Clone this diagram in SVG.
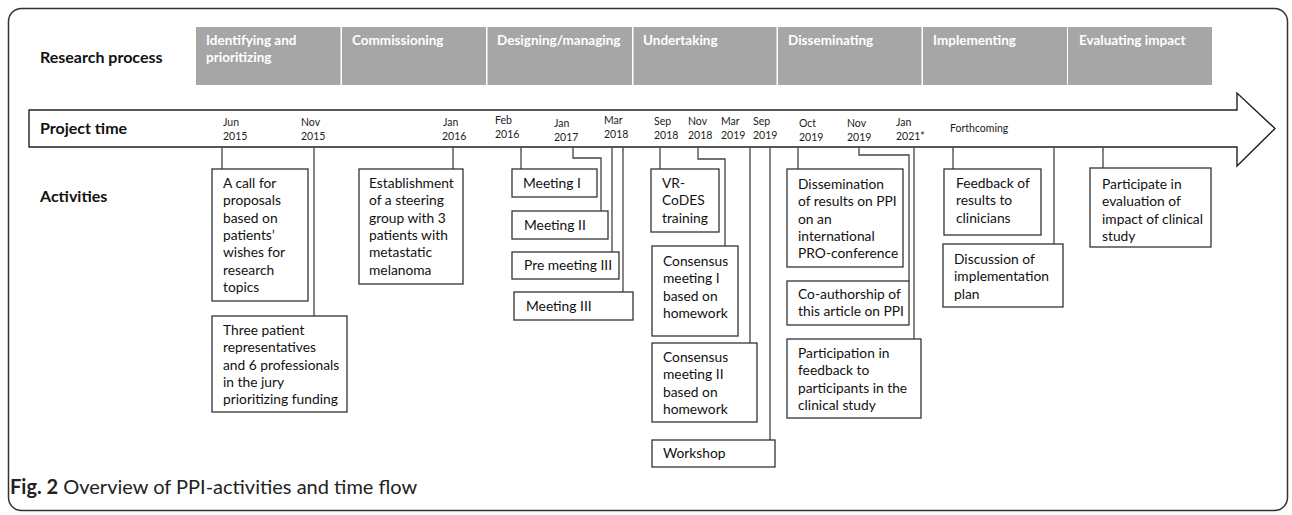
<svg xmlns="http://www.w3.org/2000/svg" width="1292" height="515" viewBox="0 0 1292 515">
<style>
.frame{fill:#fff;stroke:#333;stroke-width:1.5}
.phase{fill:#a6a6a6}
.ph{font-family:Lato,"Liberation Sans",sans-serif;font-weight:bold;font-size:13.5px;fill:#fff}
.lbl{font-family:Lato,"Liberation Sans",sans-serif;font-weight:bold;font-size:16px;fill:#111}
.date{font-family:Lato,"Liberation Sans",sans-serif;font-size:10.5px;fill:#222}
.box{fill:#fff;stroke:#333;stroke-width:1.3}
.bt{font-family:Lato,"Liberation Sans",sans-serif;font-size:13.8px;fill:#111}
.con{fill:none;stroke:#444;stroke-width:1.3}
.cap{font-family:Lato,"Liberation Sans",sans-serif;font-size:20px;fill:#222}
</style>
<rect class="frame" x="8.5" y="8.5" width="1279" height="502" rx="13"/>

<g id="research-process">
<text class="lbl" x="40" y="63">Research process</text>
<rect class="phase" x="196" y="27" width="144.5" height="58"/>
<text class="ph" x="206" y="45">Identifying and</text>
<text class="ph" x="206" y="62">prioritizing</text>
<rect class="phase" x="342" y="27" width="144" height="58"/>
<text class="ph" x="352" y="45">Commissioning</text>
<rect class="phase" x="487.5" y="27" width="144.5" height="58"/>
<text class="ph" x="497" y="45">Designing/managing</text>
<rect class="phase" x="633.5" y="27" width="143" height="58"/>
<text class="ph" x="643" y="45">Undertaking</text>
<rect class="phase" x="778" y="27" width="143.5" height="58"/>
<text class="ph" x="788" y="45">Disseminating</text>
<rect class="phase" x="923" y="27" width="144" height="58"/>
<text class="ph" x="933" y="45">Implementing</text>
<rect class="phase" x="1068" y="27" width="144" height="58"/>
<text class="ph" x="1079" y="45">Evaluating impact</text>
</g>

<g id="timeline">
<polygon points="29,110 1237,110 1237,93 1275,128.5 1237,166 1237,147 29,147" fill="#fff" stroke="#222" stroke-width="1.4"/>
<text class="lbl" x="40" y="134">Project time</text>
<text class="date" x="223" y="126">Jun</text><text class="date" x="223" y="140">2015</text>
<text class="date" x="301" y="126">Nov</text><text class="date" x="301" y="140">2015</text>
<text class="date" x="443" y="126">Jan</text><text class="date" x="442" y="140">2016</text>
<text class="date" x="495" y="124">Feb</text><text class="date" x="495" y="138">2016</text>
<text class="date" x="554" y="127">Jan</text><text class="date" x="554" y="141">2017</text>
<text class="date" x="604" y="124">Mar</text><text class="date" x="604" y="138">2018</text>
<text class="date" x="654" y="125">Sep</text><text class="date" x="654" y="139">2018</text>
<text class="date" x="688" y="125">Nov</text><text class="date" x="688" y="139">2018</text>
<text class="date" x="721" y="125">Mar</text><text class="date" x="721" y="139">2019</text>
<text class="date" x="753" y="125">Sep</text><text class="date" x="753" y="139">2019</text>
<text class="date" x="799" y="127">Oct</text><text class="date" x="799" y="141">2019</text>
<text class="date" x="847" y="127">Nov</text><text class="date" x="847" y="141">2019</text>
<text class="date" x="896" y="126">Jan</text><text class="date" x="896" y="140">2021*</text>
<text class="date" x="950" y="132">Forthcoming</text>
</g>

<text class="lbl" x="40" y="202">Activities</text>

<g id="connectors">
<path class="con" d="M222 147V169"/>
<path class="con" d="M314 147V316"/>
<path class="con" d="M453 147V169"/>
<path class="con" d="M521 147V169"/>
<path class="con" d="M573 147V158H601V211"/>
<path class="con" d="M612 147V252"/>
<path class="con" d="M623 147V292"/>
<path class="con" d="M660 147V169"/>
<path class="con" d="M698 147V159H725V246"/>
<path class="con" d="M750 147V343"/>
<path class="con" d="M770 147V440"/>
<path class="con" d="M798 147V169"/>
<path class="con" d="M859 147V155H909V281"/>
<path class="con" d="M914 147V339"/>
<path class="con" d="M953 147V169"/>
<path class="con" d="M1054 147V244"/>
<path class="con" d="M1103 147V168"/>
</g>

<g id="call-for-proposals">
<rect class="box" x="212" y="169" width="96" height="132"/>
<text class="bt" x="223" y="188">A call for<tspan x="223" dy="17.3">proposals</tspan><tspan x="223" dy="17.3">based on</tspan><tspan x="223" dy="17.3">patients’</tspan><tspan x="223" dy="17.3">wishes for</tspan><tspan x="223" dy="17.3">research</tspan><tspan x="223" dy="17.3">topics</tspan></text>
</g>
<g id="jury">
<rect class="box" x="212" y="316" width="135" height="96"/>
<text class="bt" x="223" y="335">Three patient<tspan x="223" dy="17.3">representatives</tspan><tspan x="223" dy="17.3">and 6 professionals</tspan><tspan x="223" dy="17.3">in the jury</tspan><tspan x="223" dy="17.3">prioritizing funding</tspan></text>
</g>
<g id="steering-group">
<rect class="box" x="359" y="169" width="104" height="115"/>
<text class="bt" x="369" y="188">Establishment<tspan x="369" dy="17.3">of a steering</tspan><tspan x="369" dy="17.3">group with 3</tspan><tspan x="369" dy="17.3">patients with</tspan><tspan x="369" dy="17.3">metastatic</tspan><tspan x="369" dy="17.3">melanoma</tspan></text>
</g>
<g id="meeting-1">
<rect class="box" x="512" y="169" width="85" height="28"/>
<text class="bt" x="523" y="188">Meeting I</text>
</g>
<g id="meeting-2">
<rect class="box" x="512" y="211" width="96" height="28"/>
<text class="bt" x="524" y="230">Meeting II</text>
</g>
<g id="pre-meeting-3">
<rect class="box" x="512" y="252" width="107" height="27"/>
<text class="bt" x="524" y="270">Pre meeting III</text>
</g>
<g id="meeting-3">
<rect class="box" x="514" y="292" width="119" height="28"/>
<text class="bt" x="526" y="311">Meeting III</text>
</g>
<g id="vr-codes">
<rect class="box" x="651" y="169" width="68" height="63"/>
<text class="bt" x="662" y="188">VR-<tspan x="662" dy="17.3">CoDES</tspan><tspan x="662" dy="17.3">training</tspan></text>
</g>
<g id="consensus-1">
<rect class="box" x="652" y="246" width="86" height="90"/>
<text class="bt" x="663" y="266">Consensus<tspan x="663" dy="17.3">meeting I</tspan><tspan x="663" dy="17.3">based on</tspan><tspan x="663" dy="17.3">homework</tspan></text>
</g>
<g id="consensus-2">
<rect class="box" x="652" y="343" width="105" height="79"/>
<text class="bt" x="663" y="362">Consensus<tspan x="663" dy="17.3">meeting II</tspan><tspan x="663" dy="17.3">based on</tspan><tspan x="663" dy="17.3">homework</tspan></text>
</g>
<g id="workshop">
<rect class="box" x="652" y="440" width="123" height="27"/>
<text class="bt" x="663" y="458">Workshop</text>
</g>
<g id="dissemination">
<rect class="box" x="787" y="169" width="116" height="98"/>
<text class="bt" x="798" y="189">Dissemination<tspan x="798" dy="17.3">of results on PPI</tspan><tspan x="798" dy="17.3">on an</tspan><tspan x="798" dy="17.3">international</tspan><tspan x="798" dy="17.3">PRO-conference</tspan></text>
</g>
<g id="co-authorship">
<rect class="box" x="787" y="281" width="122" height="44"/>
<text class="bt" x="798" y="299">Co-authorship of<tspan x="798" dy="17.3">this article on PPI</tspan></text>
</g>
<g id="participation">
<rect class="box" x="787" y="339" width="134" height="79"/>
<text class="bt" x="798" y="358">Participation in<tspan x="798" dy="17.3">feedback to</tspan><tspan x="798" dy="17.3">participants in the</tspan><tspan x="798" dy="17.3">clinical study</tspan></text>
</g>
<g id="feedback">
<rect class="box" x="944" y="169" width="97" height="66"/>
<text class="bt" x="956" y="188">Feedback of<tspan x="956" dy="17.3">results to</tspan><tspan x="956" dy="17.3">clinicians</tspan></text>
</g>
<g id="discussion">
<rect class="box" x="943" y="244" width="120" height="63"/>
<text class="bt" x="954" y="264">Discussion of<tspan x="954" dy="17.3">implementation</tspan><tspan x="954" dy="17.3">plan</tspan></text>
</g>
<g id="evaluation">
<rect class="box" x="1090" y="168" width="121" height="79"/>
<text class="bt" x="1102" y="189">Participate in<tspan x="1102" dy="17.3">evaluation of</tspan><tspan x="1102" dy="17.3">impact of clinical</tspan><tspan x="1102" dy="17.3">study</tspan></text>
</g>

<text class="cap" x="10" y="494"><tspan font-weight="bold">Fig. 2</tspan> Overview of PPI-activities and time flow</text>
</svg>
